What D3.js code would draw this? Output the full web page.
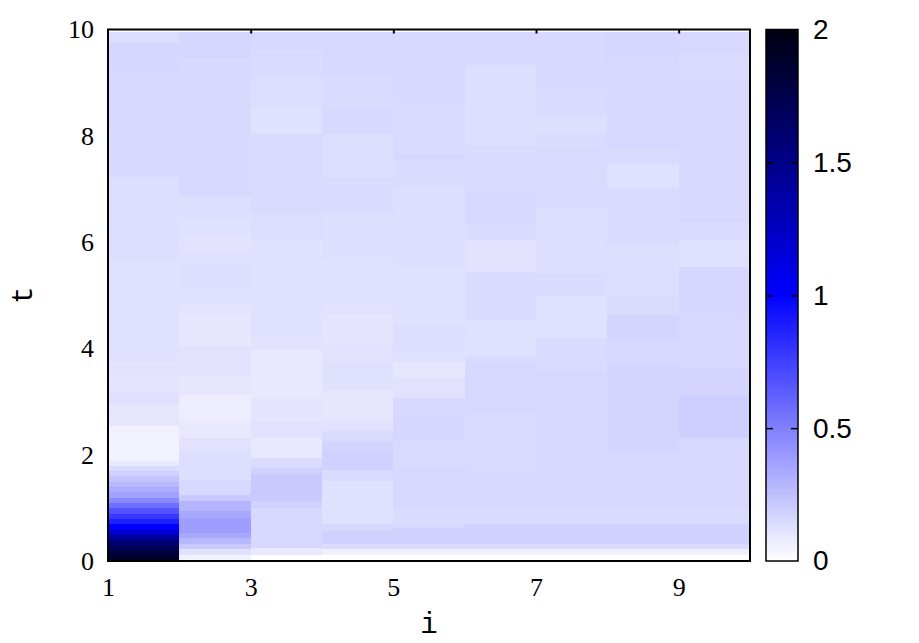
<!DOCTYPE html>
<html>
<head>
<meta charset="utf-8">
<script src="https://cdn.jsdelivr.net/npm/d3@7"></script>
<style>
  body { margin: 0; background: #fff; }
  svg { display: block; }
  .tick-serif text { font-family: "Liberation Serif", "DejaVu Serif", serif; font-size: 26px; fill: #000; }
  .cb-axis text { font-family: "Liberation Sans", Arial, sans-serif; font-size: 28px; fill: #000; }
  .axis-label { font-family: "Liberation Mono", "DejaVu Sans Mono", monospace; font-size: 29px; fill: #000; }
</style>
</head>
<body>
<svg id="chart" width="919" height="643"></svg>
<script>
// heat map cells per column i: [t start, t end, value]
const colI1 = [[0,0.1,1.88],[0.1,0.2,1.82],[0.2,0.3,1.72],[0.3,0.4,1.58],[0.4,0.5,1.42],[0.5,0.6,1.2],[0.6,0.7,1.0],[0.7,0.8,0.88],[0.8,0.9,0.78],[0.9,1.0,0.68],[1.0,1.1,0.57],[1.1,1.2,0.46],[1.2,1.3,0.37],[1.3,1.4,0.32],[1.4,1.5,0.28],[1.5,1.6,0.23],[1.6,1.7,0.18],[1.7,1.8,0.14],[1.8,1.9,0.09],[1.9,2.0,0.05],[2.0,2.55,0.055],[2.55,2.95,0.1],[2.95,3.2,0.12],[3.2,3.45,0.105],[3.45,3.77,0.11],[3.77,5.68,0.12],[5.68,7.24,0.13],[7.24,8.25,0.15],[8.25,9.25,0.155],[9.25,9.76,0.16],[9.76,9.95,0.135]];
const colI2 = [[0,0.13,0.05],[0.13,0.23,0.12],[0.23,0.33,0.21],[0.33,0.45,0.28],[0.45,0.54,0.34],[0.54,0.82,0.38],[0.82,0.95,0.34],[0.95,1.14,0.29],[1.14,1.26,0.21],[1.26,1.54,0.155],[1.54,2.07,0.13],[2.07,2.33,0.115],[2.33,2.64,0.09],[2.64,3.14,0.07],[3.14,3.51,0.1],[3.51,4.05,0.115],[4.05,4.64,0.1],[4.64,4.83,0.105],[4.83,5.04,0.12],[5.04,5.64,0.13],[5.64,5.85,0.12],[5.85,6.14,0.11],[6.14,6.45,0.12],[6.45,6.85,0.13],[6.85,8.74,0.148],[8.74,9.46,0.15],[9.46,9.95,0.16]];
const colI3 = [[0,0.13,0],[0.13,0.26,0.09],[0.26,1.01,0.155],[1.01,1.14,0.18],[1.14,1.64,0.21],[1.64,1.76,0.18],[1.76,1.95,0.14],[1.95,2.33,0.09],[2.33,2.64,0.115],[2.64,3.08,0.105],[3.08,3.98,0.09],[3.98,4.24,0.115],[4.24,6.05,0.12],[6.05,6.55,0.135],[6.55,8.05,0.145],[8.05,8.55,0.12],[8.55,9.15,0.135],[9.15,9.65,0.14],[9.65,9.95,0.155]];
const colI4 = [[0,0.13,0],[0.13,0.23,0.06],[0.23,0.32,0.14],[0.32,0.57,0.18],[0.57,0.7,0.155],[0.7,1.51,0.12],[1.51,1.73,0.14],[1.73,2.07,0.18],[2.07,2.26,0.17],[2.26,2.45,0.14],[2.45,2.64,0.115],[2.64,3.2,0.1],[3.2,3.33,0.115],[3.33,3.76,0.12],[3.76,4.08,0.115],[4.08,4.64,0.105],[4.64,4.83,0.115],[4.83,5.73,0.12],[5.73,6.55,0.13],[6.55,7.24,0.14],[7.24,8.05,0.13],[8.05,8.55,0.15],[8.55,9.15,0.14],[9.15,9.55,0.15],[9.55,9.95,0.155]];
const colI5 = [[0,0.13,0],[0.13,0.23,0.06],[0.23,0.32,0.14],[0.32,0.63,0.18],[0.63,0.7,0.155],[0.7,1.01,0.14],[1.01,1.76,0.155],[1.76,2.26,0.145],[2.26,2.76,0.16],[2.76,3.08,0.155],[3.08,3.45,0.115],[3.45,3.76,0.1],[3.76,3.95,0.12],[3.95,4.23,0.13],[4.23,4.45,0.135],[4.45,5.55,0.12],[5.55,7.05,0.13],[7.05,7.55,0.14],[7.55,7.64,0.155],[7.64,8.65,0.145],[8.65,9.95,0.15]];
const colI6 = [[0,0.13,0],[0.13,0.23,0.06],[0.23,0.32,0.14],[0.32,0.7,0.18],[0.7,1.01,0.14],[1.01,1.73,0.155],[1.73,2.83,0.145],[2.83,3.76,0.155],[3.76,3.89,0.14],[3.89,4.55,0.12],[4.55,5.45,0.14],[5.45,6.05,0.115],[6.05,6.36,0.14],[6.36,6.95,0.155],[6.95,7.83,0.14],[7.83,9.34,0.13],[9.34,9.74,0.15],[9.74,9.95,0.155]];
const colI7 = [[0,0.13,0],[0.13,0.23,0.06],[0.23,0.32,0.14],[0.32,0.7,0.18],[0.7,1.01,0.14],[1.01,3.58,0.155],[3.58,4.2,0.14],[4.2,5.0,0.12],[5.0,5.42,0.14],[5.42,6.64,0.13],[6.64,6.95,0.14],[6.95,7.74,0.145],[7.74,8.05,0.14],[8.05,8.36,0.13],[8.36,8.88,0.14],[8.88,9.95,0.15]];
const colI8 = [[0,0.13,0],[0.13,0.23,0.06],[0.23,0.32,0.14],[0.32,0.7,0.18],[0.7,1.01,0.14],[1.01,2.07,0.155],[2.07,3.67,0.17],[3.67,4.14,0.155],[4.14,4.64,0.17],[4.64,5.0,0.14],[5.0,5.95,0.13],[5.95,7.05,0.14],[7.05,7.46,0.12],[7.46,7.77,0.14],[7.77,9.46,0.155],[9.46,9.95,0.16]];
const colI9 = [[0,0.13,0],[0.13,0.23,0.06],[0.23,0.32,0.14],[0.32,0.7,0.18],[0.7,1.01,0.14],[1.01,2.33,0.155],[2.33,3.14,0.19],[3.14,3.64,0.17],[3.64,4.64,0.155],[4.64,5.55,0.16],[5.55,6.05,0.12],[6.05,6.36,0.14],[6.36,9.05,0.15],[9.05,9.55,0.14],[9.55,9.95,0.155]];

const columns = [colI1, colI2, colI3, colI4, colI5, colI6, colI7, colI8, colI9];
const xTicks = [1, 3, 5, 7, 9];
const yTicks = [0, 2, 4, 6, 8, 10];
const cbTicks = [0, 0.5, 1, 1.5, 2];

const svg = d3.select('#chart');
const plotLeft = 108, plotRight = 750, plotTop = 29.5, plotBottom = 561;
const cbLeft = 766, cbRight = 798;

const xScale = d3.scaleLinear().domain([1, 10]).range([plotLeft, plotRight]);
const yScale = d3.scaleLinear().domain([0, 10]).range([plotBottom, plotTop]);
const color = d3.scaleLinear().domain([0, 1, 2]).range(['#ffffff', '#0000ff', '#000010']).clamp(true);

// cells
columns.forEach((cells, k) => {
	const i = k + 1;
	svg.append('g')
		.selectAll('rect')
		.data(cells)
		.enter()
		.append('rect')
		.attr('x', xScale(i))
		.attr('width', xScale(i + 1) - xScale(i) + 0.5)
		.attr('y', d => yScale(d[1]))
		.attr('height', d => yScale(d[0]) - yScale(d[1]) + 0.5)
		.attr('fill', d => color(d[2]))
		.attr('shape-rendering', 'crispEdges');
});

// top ticks, pointing inward
svg.append('g')
	.attr('transform', `translate(0, ${plotTop})`)
	.call(d3.axisTop(xScale).tickValues(xTicks.slice(1)).tickSize(-4).tickFormat(''))
	.call(g => g.select('.domain').remove())
	.call(g => g.selectAll('line').attr('stroke', '#000').attr('stroke-width', 2));

// x tick labels
svg.append('g')
	.attr('class', 'tick-serif')
	.attr('transform', `translate(0, ${plotBottom})`)
	.call(d3.axisBottom(xScale).tickValues(xTicks).tickSize(0).tickPadding(17))
	.call(g => g.select('.domain').remove());

// y tick labels
svg.append('g')
	.attr('class', 'tick-serif')
	.attr('transform', `translate(${plotLeft}, 0)`)
	.call(d3.axisLeft(yScale).tickValues(yTicks).tickSize(0).tickPadding(14))
	.call(g => g.select('.domain').remove());

// frame
svg.append('rect')
	.attr('x', plotLeft)
	.attr('y', plotTop)
	.attr('width', plotRight - plotLeft)
	.attr('height', plotBottom - plotTop)
	.attr('fill', 'none')
	.attr('stroke', '#000')
	.attr('stroke-width', 2);

// axis labels
svg.append('text')
	.attr('class', 'axis-label')
	.attr('transform', `translate(32, ${(plotTop + plotBottom) / 2}) rotate(-90)`)
	.attr('text-anchor', 'middle')
	.text('t');

svg.append('text')
	.attr('class', 'axis-label')
	.attr('x', (plotLeft + plotRight) / 2)
	.attr('y', 633)
	.attr('text-anchor', 'middle')
	.text('i');

// colour box
const cbScale = d3.scaleLinear().domain([0, 2]).range([plotBottom, plotTop]);
const grad = svg.append('defs')
	.append('linearGradient')
	.attr('id', 'cbgrad')
	.attr('x1', 0).attr('y1', 1).attr('x2', 0).attr('y2', 0);

grad.selectAll('stop')
	.data(d3.range(0, 2.01, 0.05))
	.enter()
	.append('stop')
	.attr('offset', d => d / 2)
	.attr('stop-color', d => color(d));

svg.append('rect')
	.attr('x', cbLeft)
	.attr('y', plotTop)
	.attr('width', cbRight - cbLeft)
	.attr('height', plotBottom - plotTop)
	.attr('fill', 'url(#cbgrad)')
	.attr('stroke', '#000')
	.attr('stroke-width', 1.5);

const inner = cbTicks.filter(v => v > 0 && v < 2);
svg.append('g')
	.attr('transform', `translate(${cbLeft}, 0)`)
	.call(d3.axisLeft(cbScale).tickValues(inner).tickSize(-7).tickFormat(''))
	.call(g => g.select('.domain').remove())
	.call(g => g.selectAll('line').attr('stroke', '#000').attr('stroke-width', 1.5));

svg.append('g')
	.attr('class', 'cb-axis')
	.attr('transform', `translate(${cbRight}, 0)`)
	.call(d3.axisRight(cbScale).tickValues(cbTicks).tickSize(0).tickPadding(15).tickFormat(d => String(d)))
	.call(g => g.select('.domain').remove());

svg.append('g')
	.attr('transform', `translate(${cbRight}, 0)`)
	.call(d3.axisLeft(cbScale).tickValues(inner).tickSize(7).tickFormat(''))
	.call(g => g.select('.domain').remove())
	.call(g => g.selectAll('line').attr('stroke', '#000').attr('stroke-width', 1.5));
</script>
</body>
</html>
